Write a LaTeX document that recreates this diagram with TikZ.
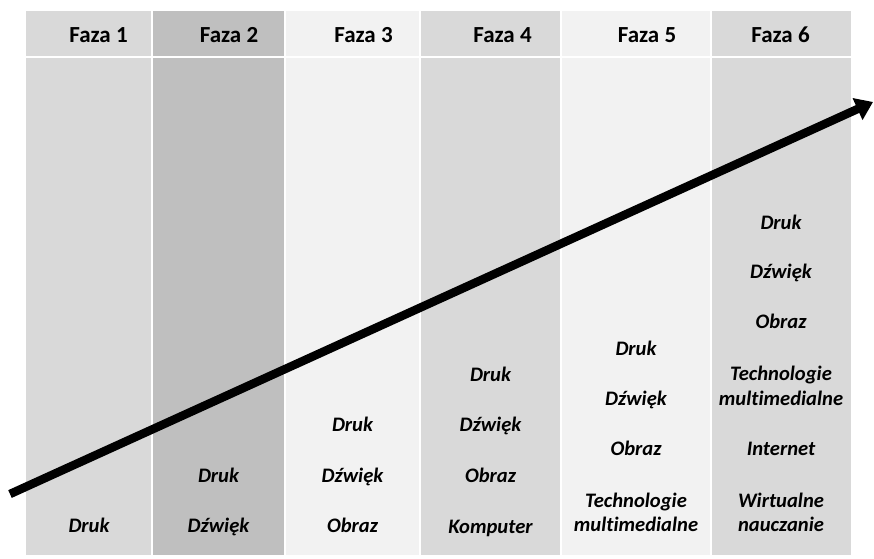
\documentclass[tikz,border=0pt]{standalone}
\usepackage{fontspec}
\setmainfont{Carlito}[Ligatures=NoCommon]
\usetikzlibrary{arrows.meta}
\definecolor{gmid}{HTML}{D9D9D9}
\definecolor{gdark}{HTML}{BFBFBF}
\definecolor{glight}{HTML}{F2F2F2}
\begin{document}
\begin{tikzpicture}[x=1pt,y=-1pt,
  head/.style={anchor=base,font=\fontsize{23}{27}\selectfont\bfseries,text=black,inner sep=0pt},
  item/.style={anchor=base,font=\fontsize{20.6}{24.5}\selectfont\bfseries\itshape,text=black,inner sep=0pt,align=center},
  sep/.style={white,line width=1.2pt},
  trend/.style={line width=8.5pt,-{Triangle[length=17pt,width=23pt]}}]
\useasboundingbox (0,0) rectangle (874,558);

% column backgrounds
\fill[gmid]   (26,11)  rectangle (152,555);
\fill[gdark]  (152,11) rectangle (285,555);
\fill[glight] (285,11) rectangle (420,555);
\fill[gmid]   (420,11) rectangle (561,555);
\fill[glight] (561,11) rectangle (711,555);
\fill[gmid]   (711,11) rectangle (851,555);

% thin white separators
\foreach \xx in {152,285,420,561,711} \draw[sep] (\xx,11) -- (\xx,555);
\draw[white,line width=2pt] (26,57) -- (851,57);

% headers
\node[head] (h1) at (98.5,42)  {Faza 1};
\node[head] (h2) at (229,42)   {Faza 2};
\node[head] (h3) at (363.5,42) {Faza 3};
\node[head] (h4) at (502.5,42) {Faza 4};
\node[head] (h5) at (647,42)   {Faza 5};
\node[head] (h6) at (780.5,42) {Faza 6};

% phase 1
\node[item] (a1) at (89,532.5) {Druk};
% phase 2
\node[item] (b1) at (218.5,482)   {Druk};
\node[item] (b2) at (218.5,532.5) {Dźwięk};
% phase 3
\node[item] (c1) at (352.5,431.5) {Druk};
\node[item] (c2) at (352.5,482)   {Dźwięk};
\node[item] (c3) at (352.5,532.5) {Obraz};
% phase 4
\node[item] (d1) at (490.5,381)   {Druk};
\node[item] (d2) at (490.5,431.5) {Dźwięk};
\node[item] (d3) at (490.5,482)   {Obraz};
\node[item] (d4) at (490.5,533)   {Komputer};
% phase 5 (two-line labels sit on the baseline of their last line)
\node[item] (e1) at (636,355.5) {Druk};
\node[item] (e2) at (636,405.5) {Dźwięk};
\node[item] (e3) at (636,455.5) {Obraz};
\node[item] (e4) at (636,531.5) {Technologie\\multimedialne};
% phase 6
\node[item] (f1) at (781,229.5) {Druk};
\node[item] (f2) at (781,278.5) {Dźwięk};
\node[item] (f3) at (781,328.5) {Obraz};
\node[item] (f4) at (781,405) {Technologie\\multimedialne};
\node[item] (f5) at (781,455.5) {Internet};
\node[item] (f6) at (781,531.5) {Wirtualne\\nauczanie};

% rising trend arrow
\coordinate (tstart) at (10,494);
\coordinate (ttip) at (873,102);
\draw[trend] (tstart) -- (ttip);
\end{tikzpicture}
\end{document}
